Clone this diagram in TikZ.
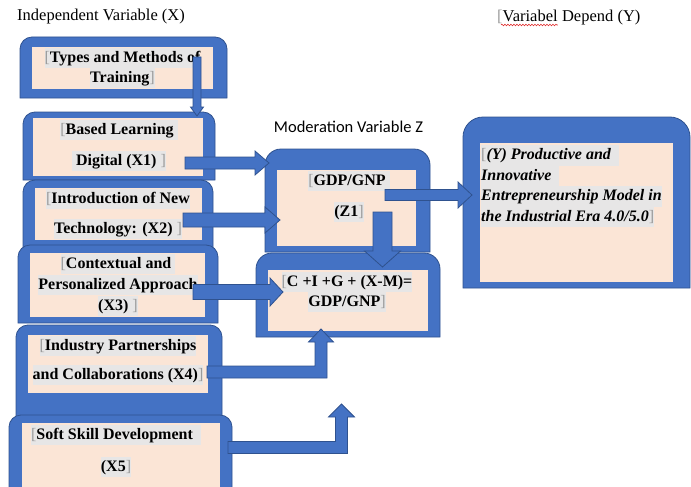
\documentclass[tikz,border=0pt]{standalone}
\usepackage{fontspec}
\setmainfont{Liberation Serif}
\newfontfamily\calibrifont{Carlito}
\usetikzlibrary{calc, positioning, decorations.pathmorphing}
\definecolor{boxblue}{HTML}{4472C4}
\definecolor{boxline}{HTML}{2F528F}
\definecolor{peach}{HTML}{FBE5D6}
\definecolor{hlgray}{HTML}{E7E6E6}
\definecolor{brkgray}{HTML}{9A9A9A}
\definecolor{spellred}{HTML}{E03030}
\setlength{\fboxsep}{0pt}
\newcommand{\hl}[1]{\colorbox{hlgray}{\strut #1}}
\newcommand{\lbr}{\textcolor{brkgray}{\mdseries\upshape[}}
\newcommand{\rbr}{\textcolor{brkgray}{\mdseries\upshape]}}
% blue frame, round top corners: name, x0, y0, x1, y1, radius
\newcommand{\outerbox}[6]{%
  \filldraw[outerbox] (#2,#5) -- (#2,#3+#6)
    .. controls (#2,#3+0.45*#6) and (#2+0.45*#6,#3) .. (#2+#6,#3)
    -- (#4-#6,#3)
    .. controls (#4-0.45*#6,#3) and (#4,#3+0.45*#6) .. (#4,#3+#6)
    -- (#4,#5) -- cycle;
  \coordinate (#1) at ({(#2+#4)/2},{(#3+#5)/2});}
% straight block arrow: from, tip, shaft half, head half, head length
\newcommand{\blockarrow}[5]{%
  \coordinate (ahbase) at ($(#2)!#5!(#1)$);
  \filldraw[blockarrow] ($(#1)!#3!90:(#2)$) -- ($(ahbase)!#3!90:(#2)$)
    -- ($(ahbase)!#4!90:(#2)$) -- (#2) -- ($(ahbase)!#4!-90:(#2)$)
    -- ($(ahbase)!#3!-90:(#2)$) -- ($(#1)!#3!-90:(#2)$) -- cycle;}
% elbow block arrow, right then up: from, tip, shaft half, head half, head length
\newcommand{\elbowarrow}[5]{%
  \filldraw[blockarrow] ($(#1)+(0,-#3)$) -- ($(#2 |- #1)+(-#3,-#3)$)
    -- ($(#2)+(-#3,#5)$) -- ($(#2)+(-#4,#5)$) -- (#2) -- ($(#2)+(#4,#5)$)
    -- ($(#2)+(#3,#5)$) -- ($(#2 |- #1)+(#3,#3)$) -- ($(#1)+(0,#3)$) -- cycle;}

\begin{document}
\begin{tikzpicture}[x=1pt, y=-1pt,
  outerbox/.style={fill=boxblue, draw=boxline, line width=0.8pt},
  innerbox/.style={fill=peach, inner sep=0pt, anchor=north west},
  blockarrow/.style={fill=boxblue, draw=boxline, line width=0.8pt},
  boxtext/.style={inner sep=0pt, align=center, font=\fontsize{16}{20}\selectfont\bfseries},
  heading/.style={inner sep=0pt, font=\fontsize{16.5}{20}\selectfont}]
  \useasboundingbox (0,0) rectangle (691,487);
  \clip (0,0) rectangle (691,487);

  % Headings
  \node[heading, anchor=west] (indep) at (17,17) {Independent Variable (X)};
  \node[heading, font=\fontsize{16.5}{20}\calibrifont] (moder) at (348.5,127) {Moderation Variable Z};
  \node[heading, anchor=base west] (varb) at (497,22) {\lbr Variabel};
  \node[heading, base right=4pt of varb] (depend) {Depend (Y)};
  \draw[spellred, line width=0.6pt, decorate, decoration={snake, amplitude=0.8pt, segment length=3pt}]
    ([xshift=4pt, yshift=-3pt]varb.base west) -- ([yshift=-3pt]varb.base east);

  % Independent variables
  \outerbox{b0}{20}{37}{227}{98}{12}
  \node[innerbox, minimum width=181pt, minimum height=42pt] (in0) at (32,47) {};
  \node[boxtext] (t0) at (122.5,68) {\hl{\lbr Types and Methods of}\\\hl{Training\rbr}};

  \outerbox{b1}{23}{112}{215}{180}{12}
  \node[innerbox, minimum width=170pt, minimum height=58pt] (in1) at (33,118) {};
  \node[boxtext] (t1) at (119,145.5) {\hl{\lbr Based Learning\ }\\[11pt]\hl{\ Digital (X1) \rbr}};

  \outerbox{b2}{23}{180}{213}{250}{12}
  \node[innerbox, minimum width=167pt, minimum height=52pt] (in2) at (35,188) {};
  \node[boxtext] (t2) at (118,214) {\hl{\lbr Introduction of New}\\[10pt]\hl{Technology: (X2) \rbr}};

  \outerbox{b3}{18}{245}{218}{323}{12}
  \node[innerbox, minimum width=175pt, minimum height=64pt] (in3) at (30,253) {};
  \node[boxtext] (t3) at (118,285) {\hl{\lbr Contextual and\ }\\[1pt]\hl{Personalized Approach}\\[1pt]\hl{(X3) \rbr}};

  \outerbox{b4}{16}{325}{222}{420}{12}
  \node[innerbox, minimum width=180pt, minimum height=58pt] (in4) at (28,335) {};
  \node[boxtext] (t4) at (118,360.5) {\hl{\lbr Industry Partnerships}\\[9pt]\hl{and Collaborations (X4)\rbr}};

  \outerbox{b5}{9}{415}{232}{500}{12}
  \node[innerbox, minimum width=198pt, minimum height=77pt] (in5) at (22,423) {};
  \node[boxtext] (t5) at (116,451) {\hl{\lbr Soft Skill Development\ \ }\\[12pt]\hl{(X5\rbr}};

  % Moderation variable
  \outerbox{bz}{265}{149}{430}{252}{16}
  \node[innerbox, minimum width=139pt, minimum height=76pt] (inz) at (277,170) {};
  \node[boxtext] (tz) at (349,196.5) {\hl{\lbr GDP/GNP\ }\\[11pt]\hl{(Z1\rbr}};

  \outerbox{beq}{256}{253}{440}{337}{16}
  \node[innerbox, minimum width=160pt, minimum height=61pt] (ineq) at (268,270) {};
  \node[boxtext] (teq) at (347,292) {\hl{\lbr C +I +G + (X-M)=}\\\hl{GDP/GNP\rbr}};

  % Dependent variable
  \outerbox{by}{463}{117}{690}{288}{20}
  \node[innerbox, minimum width=193pt, minimum height=139pt] (iny) at (480,143) {};
  \node[boxtext, align=left, anchor=north west, font=\fontsize{16}{20.5}\selectfont\bfseries\itshape] (ty) at (481,145)
    {\hl{\lbr(Y) Productive and\ \ }\\\hl{Innovative\ \ }\\\hl{Entrepreneurship Model in}\\\hl{the Industrial Era 4.0/5.0\rbr}};

  % Arrows
  \coordinate (a1s) at (197,57);    \coordinate (a1t) at (197,116);
  \coordinate (a2s) at (185,163);   \coordinate (a2t) at (269,163);
  \coordinate (a3s) at (183,220);   \coordinate (a3t) at (280,220);
  \coordinate (a4s) at (193,292);   \coordinate (a4t) at (283,292);
  \coordinate (a5s) at (207,372);   \coordinate (a5t) at (321,329);
  \coordinate (a6s) at (228,447.5); \coordinate (a6t) at (341.5,404);
  \coordinate (a7s) at (385,195);   \coordinate (a7t) at (472,195);
  \coordinate (a8s) at (382.5,212); \coordinate (a8t) at (382.5,267);
  \blockarrow{a1s}{a1t}{4pt}{6.5pt}{9pt}
  \blockarrow{a2s}{a2t}{6pt}{12pt}{14pt}
  \blockarrow{a3s}{a3t}{7pt}{13pt}{15pt}
  \blockarrow{a4s}{a4t}{7.5pt}{14pt}{13pt}
  \blockarrow{a7s}{a7t}{5.5pt}{13pt}{14pt}
  \blockarrow{a8s}{a8t}{9.5pt}{18pt}{16pt}
  \elbowarrow{a5s}{a5t}{6}{12.5}{13}
  \elbowarrow{a6s}{a6t}{6}{13}{13}
\end{tikzpicture}
\end{document}
